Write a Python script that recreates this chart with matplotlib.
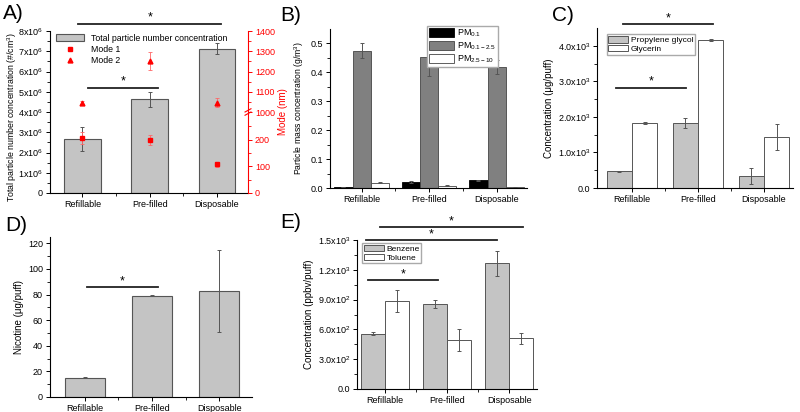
import numpy as np
import matplotlib
matplotlib.use('Agg')
import matplotlib.pyplot as plt
from matplotlib.lines import Line2D
from matplotlib.patches import Patch

plt.rcParams['font.family'] = ['Liberation Sans', 'DejaVu Sans']
plt.rcParams['mathtext.default'] = 'regular'
plt.rcParams['font.size'] = 6.5
plt.rcParams['axes.linewidth'] = 0.8

cats = ['Refillable', 'Pre-filled', 'Disposable']

# A) particle number + modes
total_num = [2.65e6, 4.62e6, 7.13e6]
total_num_err = [0.59e6, 0.35e6, 0.27e6]
mode1 = [206, 199, 107]
mode1_err = [22, 20, 10]
mode2 = [1046, 1250, 1046]
mode2_err = [6, 44, 22]
a_ticks = [0, 1e6, 2e6, 3e6, 4e6, 5e6, 6e6, 7e6, 8e6]
a_ticklabels = ['0'] + ['%dx10$^6$' % k for k in range(1, 9)]
mode_ticks = [0, 100, 200, 1000, 1100, 1200, 1300, 1400]

# B) particle mass
pm01 = [0.003, 0.021, 0.026]
pm01_err = [0.0005, 0.002, 0.001]
pm0125 = [0.475, 0.453, 0.418]
pm0125_err = [0.027, 0.065, 0.025]
pm2510 = [0.019, 0.008, 0.002]
pm2510_err = [0.003, 0.002, 0.0005]

# C) PG / glycerin
pg = [465, 1830, 335]
pg_err = [10, 130, 230]
gly = [1830, 4165, 1440]
gly_err = [25, 20, 360]
c_ticks = [0, 1000, 2000, 3000, 4000]
c_ticklabels = ['0.0', '1.0x10$^3$', '2.0x10$^3$', '3.0x10$^3$', '4.0x10$^3$']

# D) nicotine
nic = [15.1, 79.2, 83.1]
nic_err = [0.6, 0.3, 32.0]

# E) benzene / toluene
benz = [558, 852, 1265]
benz_err = [15, 40, 128]
tol = [889, 495, 512]
tol_err = [112, 108, 55]
e_ticks = [0, 300, 600, 900, 1200, 1500]
e_ticklabels = ['0.0', '3.0x10$^2$', '6.0x10$^2$', '9.0x10$^2$', '1.2x10$^3$', '1.5x10$^3$']

# significance brackets: (x start, x end, height)
sig_A = [(-0.06, 2.06, 8.35e6), (0.08, 1.13, 5.2e6)]
sig_C = [(-0.14, 1.23, 4610), (-0.24, 0.82, 2820)]
sig_D = [(0.03, 1.09, 85.7)]
sig_E = [(-0.08, 2.23, 1631), (-0.31, 1.81, 1500), (-0.27, 0.85, 1097)]

W, H = 800, 412
fig = plt.figure(figsize=(8, 4.12), dpi=100)

def rect(x0, y0, x1, y1):
    return [x0 / W, 1 - y1 / H, (x1 - x0) / W, (y1 - y0) / H]

GRAY = '#c4c4c4'
EDGE = '#555555'
ERRC = '#555555'
ekw = dict(ecolor=ERRC, elinewidth=0.7, capsize=1.5, capthick=0.7)
legkw = dict(fontsize=6, fancybox=False, edgecolor='#aaaaaa', framealpha=1,
             handlelength=2.4, handleheight=0.8, labelspacing=0.1, borderpad=0.2,
             handletextpad=0.3, borderaxespad=0.2)

def style(ax, xlim):
    ax.spines['top'].set_visible(False)
    ax.spines['right'].set_visible(False)
    ax.set_xlim(*xlim)
    ax.set_xticks([0, 1, 2])
    ax.set_xticklabels(cats)
    ax.set_xticks([0.5, 1.5], minor=True)
    ax.tick_params(which='major', length=3, width=0.7, pad=2)
    ax.tick_params(which='minor', length=2, width=0.6)

def sig(ax, lines):
    for x0, x1, y in lines:
        ax.plot([x0, x1], [y, y], color='#222222', lw=1.3, clip_on=False)
        ax.text((x0 + x1) / 2, y, '*', ha='center', va='bottom', fontsize=9, clip_on=False)

x = np.arange(3)

# ---------- A ----------
axA = fig.add_axes(rect(50, 31, 248, 193))
axA.bar(x, total_num, 0.54, yerr=total_num_err, color=GRAY, edgecolor=EDGE, lw=0.8, error_kw=ekw)
style(axA, (-0.48, 2.46))
axA.set_ylim(0, 8e6)
axA.set_yticks(a_ticks)
axA.set_yticklabels(a_ticklabels)
axA.set_yticks(np.arange(0.5e6, 8e6, 1e6), minor=True)
axA.set_ylabel('Total particle number concentration (#/cm$^3$)', fontsize=6.3, labelpad=2)
axA.yaxis.set_label_coords(-0.155, 0.47)
sig(axA, sig_A)

fwd = lambda v: np.interp(v, [0, 300, 1000, 1400], [0, 3.95, 4.0, 8.0])
inv = lambda y: np.interp(y, [0, 3.95, 4.0, 8.0], [0, 300, 1000, 1400])
axR = axA.twinx()
axR.set_yscale('function', functions=(fwd, inv))
axR.set_ylim(0, 1400)
axR.set_yticks(mode_ticks)
axR.set_yticks([50, 150, 250, 1050, 1150, 1250, 1350], minor=True)
axR.errorbar(x, mode1, yerr=mode1_err, fmt='s', color='red', ms=3, ecolor='#ff6666',
             elinewidth=0.6, capsize=1.5, capthick=0.6)
axR.errorbar(x, mode2, yerr=mode2_err, fmt='^', color='red', ms=3.5, ecolor='#ff6666',
             elinewidth=0.6, capsize=1.5, capthick=0.6)
for s in ['top', 'left', 'bottom']:
    axR.spines[s].set_visible(False)
axR.spines['right'].set_color('red')
axR.tick_params(axis='y', colors='red', length=3, width=0.7, pad=2)
axR.tick_params(axis='y', which='minor', colors='red', length=2, width=0.6)
axR.set_ylabel('Mode (nm)', color='red', fontsize=7, labelpad=2)
for dy in (0, 0.02):
    axR.plot([0.985, 1.015], [0.48 + dy, 0.5 + dy], transform=axR.transAxes,
             color='red', lw=0.8, clip_on=False)

handlesA = [Patch(facecolor=GRAY, edgecolor=EDGE, lw=0.8),
            Line2D([], [], ls='none', marker='s', color='red', ms=3),
            Line2D([], [], ls='none', marker='^', color='red', ms=3.5)]
axR.legend(handlesA, ['Total particle number concentration', 'Mode 1', 'Mode 2'],
           loc='upper left', bbox_to_anchor=(0.0, 1.02), frameon=False, fontsize=6.3,
           handlelength=3.2, handleheight=0.9, labelspacing=0.25, borderaxespad=0.3)

# ---------- B ----------
axB = fig.add_axes(rect(330, 29, 527, 188))
bw = 0.27
axB.bar(x - bw, pm01, bw, yerr=pm01_err, color='black', edgecolor='black', lw=0.6,
        error_kw=ekw, label='PM$_{0.1}$')
axB.bar(x, pm0125, bw, yerr=pm0125_err, color='#808080', edgecolor='#444444', lw=0.6,
        error_kw=ekw, label='PM$_{0.1-2.5}$')
axB.bar(x + bw, pm2510, bw, yerr=pm2510_err, color='white', edgecolor='#444444', lw=0.6,
        error_kw=ekw, label='PM$_{2.5-10}$')
style(axB, (-0.47, 2.45))
axB.set_ylim(0, 0.55)
axB.set_yticks([0, 0.1, 0.2, 0.3, 0.4, 0.5])
axB.set_yticks(np.arange(0.05, 0.55, 0.1), minor=True)
axB.set_ylabel('Particle mass concentration (g/m$^3$)', fontsize=6.2, labelpad=3)
legB = dict(legkw)
legB.update(fontsize=6.5, handlelength=2.8, handleheight=1.1, labelspacing=0.15)
axB.legend(loc='upper right', bbox_to_anchor=(0.86, 1.03), **legB)

# ---------- C ----------
axC = fig.add_axes(rect(597, 28, 793, 188))
cw = 0.38
axC.bar(x - cw / 2, pg, cw, yerr=pg_err, color=GRAY, edgecolor=EDGE, lw=0.7,
        error_kw=ekw, label='Propylene glycol')
axC.bar(x + cw / 2, gly, cw, yerr=gly_err, color='white', edgecolor=EDGE, lw=0.7,
        error_kw=ekw, label='Glycerin')
style(axC, (-0.53, 2.44))
axC.set_ylim(0, 4500)
axC.set_yticks(c_ticks)
axC.set_yticklabels(c_ticklabels)
axC.set_yticks(np.arange(500, 4500, 1000), minor=True)
axC.set_ylabel('Concentration (\u03bcg/puff)', fontsize=7, labelpad=3)
axC.legend(loc='upper left', bbox_to_anchor=(0.04, 0.97), **legkw)
sig(axC, sig_C)

# ---------- D ----------
axD = fig.add_axes(rect(50, 237, 252, 397))
axD.bar(x, nic, 0.6, yerr=nic_err, color=GRAY, edgecolor=EDGE, lw=0.8, error_kw=ekw)
style(axD, (-0.52, 2.49))
axD.set_ylim(0, 125)
axD.set_yticks([0, 20, 40, 60, 80, 100, 120])
axD.set_yticks(np.arange(10, 125, 20), minor=True)
axD.set_ylabel('Nicotine (\u03bcg/puff)', fontsize=7, labelpad=3)
sig(axD, sig_D)

# ---------- E ----------
axE = fig.add_axes(rect(357, 240, 537, 389))
ew = 0.39
axE.bar(x - ew / 2, benz, ew, yerr=benz_err, color=GRAY, edgecolor=EDGE, lw=0.7,
        error_kw=ekw, label='Benzene')
axE.bar(x + ew / 2, tol, ew, yerr=tol_err, color='white', edgecolor=EDGE, lw=0.7,
        error_kw=ekw, label='Toluene')
style(axE, (-0.45, 2.45))
axE.set_ylim(0, 1500)
axE.set_yticks(e_ticks)
axE.set_yticklabels(e_ticklabels)
axE.set_yticks(np.arange(150, 1500, 300), minor=True)
axE.set_ylabel('Concentration (ppbv/puff)', fontsize=7, labelpad=3)
axE.legend(loc='upper left', bbox_to_anchor=(0.02, 0.99), **legkw)
sig(axE, sig_E)

# panel letters
letters = [('A)', 3, 4), ('B)', 280, 6), ('C)', 552, 6), ('D)', 5, 216), ('E)', 280, 213)]
for lab, px, py in letters:
    fig.text(px / W, 1 - py / H, lab, fontsize=15, ha='left', va='top')

fig.savefig('out.png', dpi=100)
